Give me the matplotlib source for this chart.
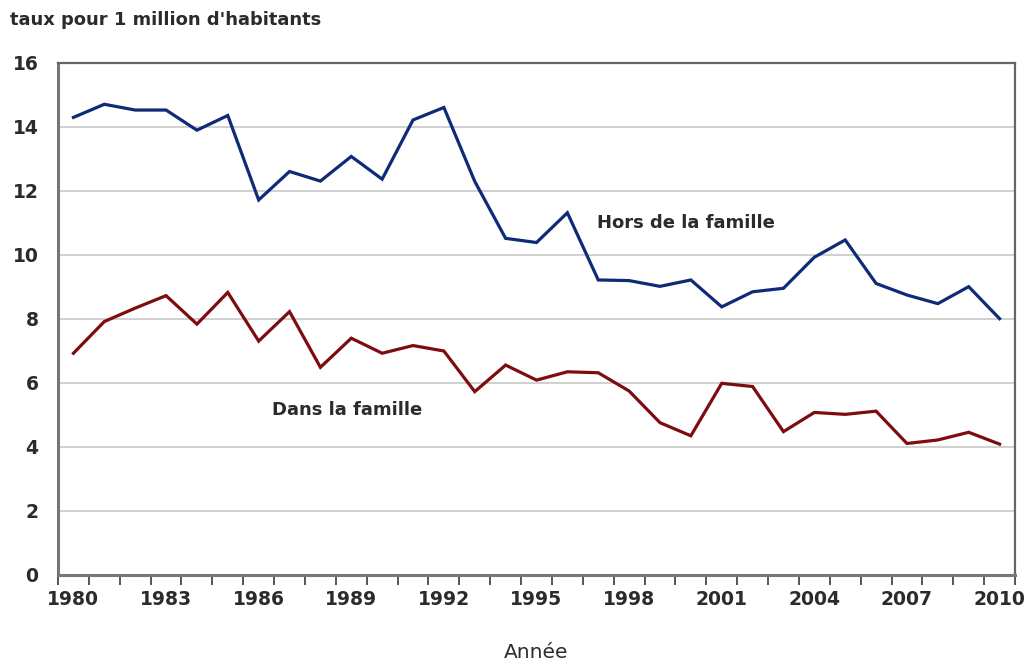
import matplotlib
matplotlib.use("Agg")
import matplotlib.pyplot as plt
import numpy as np

years = list(range(1980, 2011))
hors_famille = [14.3, 14.71, 14.53, 14.53, 13.9, 14.36, 11.72, 12.61, 12.31, 13.08, 12.37,
                14.22, 14.61, 12.3, 10.52, 10.39, 11.32, 9.22, 9.2, 9.02, 9.22,
                8.38, 8.85, 8.96, 9.93, 10.47, 9.11, 8.75, 8.48, 9.01, 8.01]
dans_famille = [6.93, 7.92, 8.34, 8.73, 7.84, 8.83, 7.31, 8.23, 6.49, 7.40, 6.93,
                7.17, 7.0, 5.73, 6.56, 6.09, 6.35, 6.32, 5.75, 4.76, 4.35,
                5.99, 5.89, 4.48, 5.08, 5.02, 5.12, 4.11, 4.22, 4.46, 4.09]
yticks = [0, 2, 4, 6, 8, 10, 12, 14, 16]
xtick_years = years[::3]

plt.rcParams['font.family'] = ['DejaVu Sans']
TXT = '#2b2b2b'

fig = plt.figure(figsize=(10.26, 6.62), dpi=100)
ax = fig.add_axes([58/1026, 1-575/662, (1015-58)/1026, (575-63)/662])

x = np.arange(len(years))
ax.plot(x, hors_famille, color='#0f2a76', lw=2.3, solid_joinstyle='miter')
ax.plot(x, dans_famille, color='#7d0c10', lw=2.3, solid_joinstyle='miter')

ax.set_xlim(-0.5, len(years) - 0.5)
ax.set_ylim(0, 16)
ax.set_yticks(yticks)
ax.set_yticklabels([str(v) for v in yticks], fontsize=13.5, color=TXT, fontweight='bold')
ax.tick_params(axis='y', length=0, pad=14)
for v in yticks[1:-1]:
    ax.axhline(v, color='#c8c8c8', lw=1.2, zorder=0)

# category ticks at boundaries
ax.set_xticks(np.arange(-0.5, len(years) + 0.5, 1.0))
ax.set_xticklabels([])
ax.tick_params(axis='x', which='major', length=7, width=1.4, color='#555555', direction='out')
ax.set_xticks([years.index(y) for y in xtick_years], minor=True)
ax.set_xticklabels([str(y) for y in xtick_years], minor=True, fontsize=13.5, color=TXT,
                   fontweight='bold')
ax.tick_params(axis='x', which='minor', length=0, pad=11)

for s in ['left', 'bottom']:
    ax.spines[s].set_color('#777777')
    ax.spines[s].set_linewidth(2.2)
for s in ['top', 'right']:
    ax.spines[s].set_color('#666666')
    ax.spines[s].set_linewidth(1.6)

ax.text(16.95, 11.0, 'Hors de la famille', fontsize=13.0, color=TXT, fontweight='bold',
        ha='left', va='center')
ax.text(6.43, 5.16, 'Dans la famille', fontsize=13.0, color=TXT, fontweight='bold',
        ha='left', va='center')

fig.text(10/1026, 1-20/662, "taux pour 1 million d'habitants", fontsize=12.9, color=TXT,
         fontweight='bold', ha='left', va='center')
fig.text(536/1026, 1-652/662, 'Année', fontsize=14.5, color=TXT, ha='center', va='center')

fig.savefig('out.png', dpi=100)
